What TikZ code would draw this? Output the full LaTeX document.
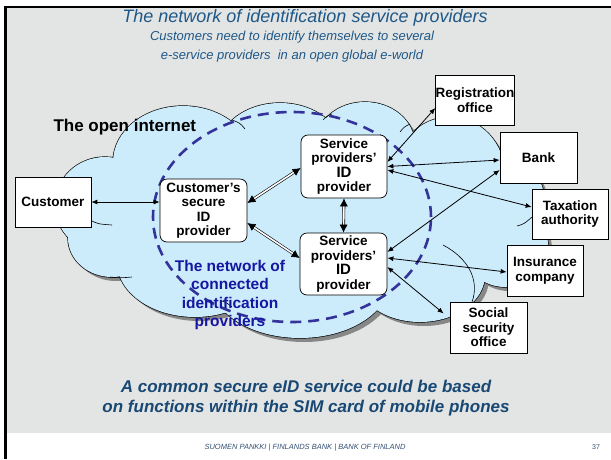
\documentclass[tikz,border=0pt]{standalone}
\usepackage{fontspec}
\setmainfont{Liberation Sans}
\usetikzlibrary{arrows.meta}
\definecolor{bggray}{RGB}{227,228,228}
\definecolor{cloudblue}{RGB}{204,236,252}
\definecolor{shadowgray}{RGB}{135,135,135}
\definecolor{dashblue}{RGB}{51,51,153}
\definecolor{navytext}{RGB}{22,22,160}
\definecolor{titleblue}{RGB}{30,88,136}
\definecolor{captionblue}{RGB}{24,72,115}
\definecolor{footblue}{RGB}{50,80,115}
\newcommand\cloudshape[1]{%
  \foreach \cx/\cy/\rx/\ry in {105/205/50/48,112/238/44/39,195/262/78/55,300/280/90/58,420/275/65/47,505/245/43/42,505/205/40/50,450/175/55/58,365/145/50/43,280/150/62/47,183/162/70/56,310/210/190/80}{%
    \path[#1] (\cx,\cy) ellipse [x radius=\rx pt, y radius=\ry pt];}}
\tikzset{
  sqbox/.style={draw=black, line width=0.7pt, fill=white, inner sep=0pt, align=center,
    font=\fontsize{13.5}{14.5}\selectfont\bfseries},
  rdbox/.style={sqbox, rounded corners=7pt},
  thinarrow/.style={line width=0.8pt, {Latex[length=6pt,width=5pt]}-{Latex[length=6pt,width=5pt]}},
  dblarrow/.style={double, double distance=1.6pt, line width=0.6pt, {Latex[length=8pt,width=8pt]}-{Latex[length=8pt,width=8pt]}},
  innerarc/.style={line width=0.6pt, black}
}
\begin{document}
\begin{tikzpicture}[x=1pt,y=-1pt]
\useasboundingbox (0,0) rectangle (611,459);
\fill[white] (0,0) rectangle (611,459);
\fill[bggray] (7,8) rectangle (611,433);
\draw[line width=2pt] (5,7) -- (611,7);
\draw[line width=2.5pt] (5.5,6) -- (5.5,459);
% titles
\node[font=\fontsize{18}{20}\selectfont\itshape, text=titleblue] (title) at (305,18) {The network of identification service providers};
\node[font=\fontsize{13}{19}\selectfont\itshape, text=titleblue, align=center] (subtitle) at (292,46.5) {Customers need to identify themselves to several\\e-service providers\ \ in an open global e-world};
% cloud
\begin{scope}[shift={(4,4)}]
\cloudshape{fill=shadowgray}
\end{scope}
\cloudshape{draw=black, line width=1.3pt}
\cloudshape{fill=cloudblue}
% inner arcs
\draw[innerarc] (90,220) .. controls (98,224) .. (112,225);
\draw[innerarc] (110,277) .. controls (120,278) .. (132,277);
\draw[innerarc] (232,120) .. controls (240,123) .. (245,129);
\draw[innerarc] (323,120) .. controls (327,116) .. (332,114);
\draw[innerarc] (400,132) .. controls (404,127) .. (410,124);
\draw[innerarc] (517,226) .. controls (524,224) .. (532,217);
\draw[innerarc] (443,245) .. controls (468,258) and (480,280) .. (472,302);
\draw[innerarc] (222,301) .. controls (227,303) .. (232,307);
% dashed network ellipse
\draw[dashblue, line width=2.6pt, dash pattern=on 11pt off 7pt] (292,217) ellipse [x radius=139pt, y radius=105pt];
% labels
\node[font=\fontsize{17}{18}\selectfont\bfseries, anchor=west] (openinternet) at (50,127) {The open internet};
\node[font=\fontsize{15.5}{18.5}\selectfont\bfseries, text=navytext, align=center] (netlabel) at (230,295) {The network of\\connected\\identification\\providers};
% boxes
\node[sqbox, minimum width=76pt, minimum height=50pt] (cust) at (53,202) {Customer};
\node[rdbox, minimum width=87pt, minimum height=63pt] (cs) at (203.5,210.5) {Customer’s\\secure\\ID\\provider};
\node[rdbox, minimum width=86pt, minimum height=63pt] (sp1) at (344,166.5) {Service\\providers’\\{\fontsize{15}{14.5}\selectfont ID}\\provider};
\node[rdbox, minimum width=87pt, minimum height=62pt] (sp2) at (343.5,264) {Service\\providers’\\{\fontsize{15}{14.5}\selectfont ID}\\provider};
\node[sqbox, minimum width=76pt, minimum height=50pt] (reg) at (475,100) {Registration\\office};
\node[sqbox, minimum width=77pt, minimum height=51pt, font=\fontsize{13.5}{15}\selectfont\bfseries] (bank) at (538.5,157.5) {Bank};
\node[sqbox, minimum width=76pt, minimum height=50pt] (tax) at (570,214) {Taxation\\authority};
\node[sqbox, minimum width=76pt, minimum height=51pt] (ins) at (545,270.5) {Insurance\\company};
\node[sqbox, minimum width=77pt, minimum height=51pt] (soc) at (488.5,327.5) {Social\\security\\office};
% connectors
\draw[thinarrow] (cust.east) -- ([yshift=8.5pt]cs.west);
\draw[dblarrow] ([yshift=7.5pt]cs.east) -- ([yshift=-1.5pt]sp1.west);
\draw[dblarrow] ([yshift=-12.5pt]cs.east) -- ([yshift=6pt]sp2.west);
\draw[dblarrow] (sp1.south) -- (sp2.north);
\draw[thinarrow] ([yshift=4.5pt]sp1.east) -- ([yshift=-8pt]reg.west);
\draw[thinarrow] (sp1.east) -- ([yshift=-2.5pt]bank.west);
\draw[thinarrow] ([yshift=-3.5pt]sp1.east) -- ([yshift=7pt]tax.west);
\draw[thinarrow] ([yshift=12pt]sp2.east) -- ([yshift=-12.5pt]bank.west);
\draw[thinarrow] ([yshift=6pt]sp2.east) -- ([yshift=-1.5pt]ins.west);
\draw[thinarrow] ([yshift=-3pt]sp2.east) -- ([xshift=-6pt,yshift=14pt]soc.west);
% caption and footer
\node[font=\fontsize{17}{20}\selectfont\bfseries\itshape, text=captionblue, align=center] (caption) at (306,398) {A common secure eID service could be based\\on functions within the SIM card of mobile phones};
\node[font=\fontsize{7.5}{8}\selectfont\itshape, text=footblue] (footer) at (305,448) {SUOMEN PANKKI | FINLANDS BANK | BANK OF FINLAND};
\node[font=\fontsize{7}{8}\selectfont, text=footblue] (page) at (596,447) {37};
\end{tikzpicture}
\end{document}
